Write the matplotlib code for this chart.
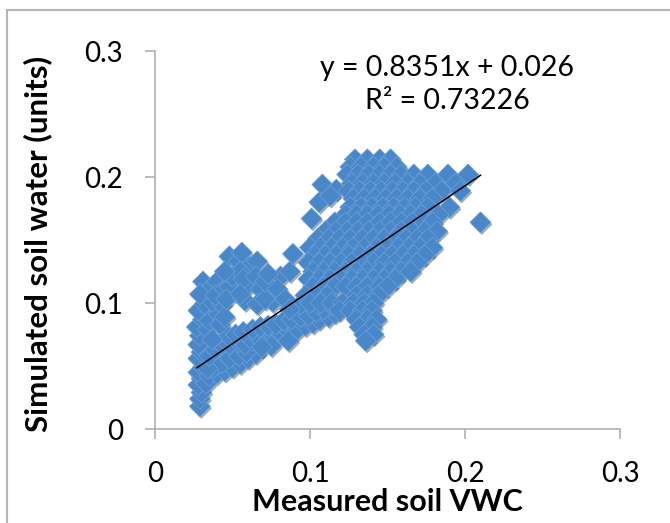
import matplotlib
matplotlib.use('Agg')
import matplotlib.pyplot as plt
import matplotlib.patheffects as pe
from matplotlib.lines import Line2D

plt.rcParams['font.family'] = ['Lato', 'DejaVu Sans']

# regression shown on the chart
fit_slope = 0.8351
fit_intercept = 0.026
fit_r2 = '0.73226'

# measured VWC (x) / simulated soil water (y), read off the picture by region
tail_x = [0.029, 0.029, 0.030, 0.028, 0.030, 0.028, 0.031, 0.028, 0.030, 0.033]
tail_y = [0.018, 0.024, 0.029, 0.035, 0.040, 0.045, 0.049, 0.056, 0.061, 0.036]

sublobe_x = [0.035, 0.040, 0.045, 0.050, 0.055, 0.060, 0.065, 0.038, 0.043, 0.048, 0.054, 0.059, 0.034]
sublobe_y = [0.042, 0.044, 0.046, 0.049, 0.052, 0.056, 0.060, 0.049, 0.052, 0.056, 0.058, 0.061, 0.048]

band_x = [0.035, 0.039, 0.043, 0.048, 0.054, 0.058, 0.063, 0.068, 0.073, 0.077, 0.082, 0.087,
          0.092, 0.097, 0.102, 0.106, 0.112, 0.116,
          0.047, 0.052, 0.057, 0.063, 0.068, 0.073, 0.078, 0.083, 0.088, 0.094, 0.099, 0.104,
          0.109, 0.114, 0.075, 0.086, 0.069]
band_y = [0.058, 0.063, 0.067, 0.067, 0.069, 0.067, 0.070, 0.071, 0.070, 0.073, 0.075, 0.077,
          0.079, 0.082, 0.084, 0.087, 0.089, 0.092,
          0.074, 0.075, 0.077, 0.079, 0.081, 0.082, 0.083, 0.086, 0.087, 0.089, 0.090, 0.093,
          0.095, 0.098, 0.066, 0.070, 0.065]

branch_x = [0.028, 0.029, 0.027, 0.031, 0.028, 0.034, 0.037, 0.035, 0.041, 0.032, 0.037, 0.043, 0.042, 0.045]
branch_y = [0.067, 0.074, 0.081, 0.087, 0.094, 0.079, 0.071, 0.086, 0.091, 0.099, 0.101, 0.099, 0.083, 0.089]

lobe_x = [0.031, 0.035, 0.040, 0.029, 0.039, 0.045, 0.048, 0.054, 0.056, 0.061, 0.066,
          0.048, 0.050, 0.055, 0.059, 0.057, 0.065, 0.068, 0.074, 0.076, 0.058, 0.066, 0.071,
          0.046, 0.055, 0.071, 0.081, 0.087, 0.089, 0.045, 0.073, 0.079, 0.084]
lobe_y = [0.117, 0.111, 0.117, 0.107, 0.106, 0.111, 0.137, 0.133, 0.140, 0.129, 0.133,
          0.113, 0.121, 0.125, 0.113, 0.119, 0.121, 0.111, 0.106, 0.101, 0.102, 0.099, 0.103,
          0.103, 0.107, 0.117, 0.121, 0.125, 0.139, 0.125, 0.123, 0.111, 0.103]

junction_x = [0.094, 0.100, 0.105, 0.087]
junction_y = [0.099, 0.103, 0.099, 0.095]

outlier_x = [0.108, 0.117, 0.106, 0.101, 0.113, 0.210]
outlier_y = [0.194, 0.190, 0.180, 0.167, 0.185, 0.164]

# main cloud, one simulated level per row
mass_levels = [0.214, 0.208, 0.202, 0.195, 0.189, 0.183, 0.176, 0.170, 0.164, 0.157, 0.151,
               0.144, 0.138, 0.132, 0.125, 0.119, 0.113, 0.106, 0.100, 0.094, 0.087, 0.081,
               0.075, 0.070]
mass_rows = [
    [0.129, 0.137, 0.145, 0.152],
    [0.126, 0.133, 0.141, 0.148, 0.156],
    [0.124, 0.131, 0.138, 0.145, 0.152, 0.159, 0.167, 0.176, 0.189, 0.202],
    [0.127, 0.134, 0.141, 0.148, 0.155, 0.163, 0.171, 0.181, 0.194],
    [0.125, 0.132, 0.139, 0.146, 0.153, 0.160, 0.167, 0.175, 0.185, 0.197],
    [0.128, 0.135, 0.142, 0.149, 0.156, 0.163, 0.171, 0.179],
    [0.126, 0.133, 0.140, 0.147, 0.154, 0.161, 0.168, 0.176, 0.190],
    [0.123, 0.130, 0.137, 0.144, 0.151, 0.158, 0.165, 0.172, 0.183],
    [0.116, 0.123, 0.130, 0.137, 0.145, 0.152, 0.159, 0.166, 0.174, 0.179],
    [0.110, 0.117, 0.124, 0.131, 0.138, 0.145, 0.152, 0.159, 0.166, 0.174, 0.182],
    [0.105, 0.112, 0.119, 0.126, 0.134, 0.141, 0.148, 0.155, 0.162, 0.169, 0.176],
    [0.100, 0.107, 0.114, 0.121, 0.128, 0.135, 0.143, 0.150, 0.157, 0.164, 0.171, 0.179],
    [0.103, 0.110, 0.117, 0.125, 0.132, 0.139, 0.146, 0.153, 0.160, 0.167, 0.174],
    [0.099, 0.106, 0.113, 0.120, 0.127, 0.134, 0.141, 0.148, 0.155, 0.163, 0.169],
    [0.102, 0.109, 0.116, 0.123, 0.130, 0.137, 0.145, 0.152, 0.159, 0.165],
    [0.099, 0.106, 0.113, 0.120, 0.127, 0.134, 0.141, 0.148, 0.155],
    [0.102, 0.109, 0.116, 0.123, 0.130, 0.137, 0.145, 0.150],
    [0.097, 0.104, 0.111, 0.130, 0.137, 0.144],
    [0.100, 0.107, 0.114, 0.121, 0.128, 0.135, 0.141],
    [0.119, 0.126, 0.134, 0.140],
    [0.130, 0.137, 0.143],
    [0.132, 0.140],
    [0.135, 0.141],
    [0.136],
]

measured = tail_x + sublobe_x + band_x + branch_x + lobe_x + junction_x + outlier_x
simulated = tail_y + sublobe_y + band_y + branch_y + lobe_y + junction_y + outlier_y
for level, row in zip(mass_levels, mass_rows):
    measured += row
    simulated += [level] * len(row)

fig = plt.figure(figsize=(6.7, 5.23), dpi=100)
ax = fig.add_axes([155 / 670, 1 - 429 / 523, 465 / 670, 378 / 523])

pts = ax.scatter(measured, simulated, marker='D', s=115, color='#4a87c9',
                 edgecolors='#6ea2d9', linewidths=0.5, zorder=2)
pts.set_path_effects([pe.SimplePatchShadow(offset=(1, -1.5), shadow_rgbFace='#1c3450', alpha=0.4),
                      pe.Normal()])

x0, x1 = min(measured), max(measured)
ax.plot([x0, x1], [fit_slope * x0 + fit_intercept, fit_slope * x1 + fit_intercept],
        color='black', lw=1.1, zorder=3)

ax.set_xlim(0, 0.3)
ax.set_ylim(0, 0.3)
ax.set_xticks([0, 0.1, 0.2, 0.3])
ax.set_yticks([0, 0.1, 0.2, 0.3])
ax.set_xticklabels(['0', '0.1', '0.2', '0.3'])
ax.set_yticklabels(['0', '0.1', '0.2', '0.3'])
ax.tick_params(labelsize=20, length=7, width=1.2, color='#b0b0b0', pad=16, direction='out')
for side in ['top', 'right']:
    ax.spines[side].set_visible(False)
for side in ['left', 'bottom']:
    ax.spines[side].set_color('#b0b0b0')
    ax.spines[side].set_linewidth(1.2)

ax.set_xlabel('Measured soil VWC', fontsize=22, fontweight='bold', labelpad=1)
fig.text(38 / 670, 1 - 244 / 523, 'Simulated soil water (units)', rotation=90,
         fontsize=22.5, fontweight='bold', ha='center', va='center')

fig.text(447 / 670, 1 - 68 / 523, 'y = %.4fx + %.3f' % (fit_slope, fit_intercept),
         fontsize=20.5, ha='center', va='center')
fig.text(447 / 670, 1 - 101 / 523, 'R² = ' + fit_r2, fontsize=20.5, ha='center', va='center')

# chart frame
fig.add_artist(Line2D([7 / 670, 7 / 670], [0, 1 - 10 / 523], transform=fig.transFigure,
                      color='#b5b5b5', lw=1.5))
fig.add_artist(Line2D([7 / 670, 1], [1 - 10 / 523, 1 - 10 / 523], transform=fig.transFigure,
                      color='#b5b5b5', lw=1.5))

fig.savefig('out.png', dpi=100)
